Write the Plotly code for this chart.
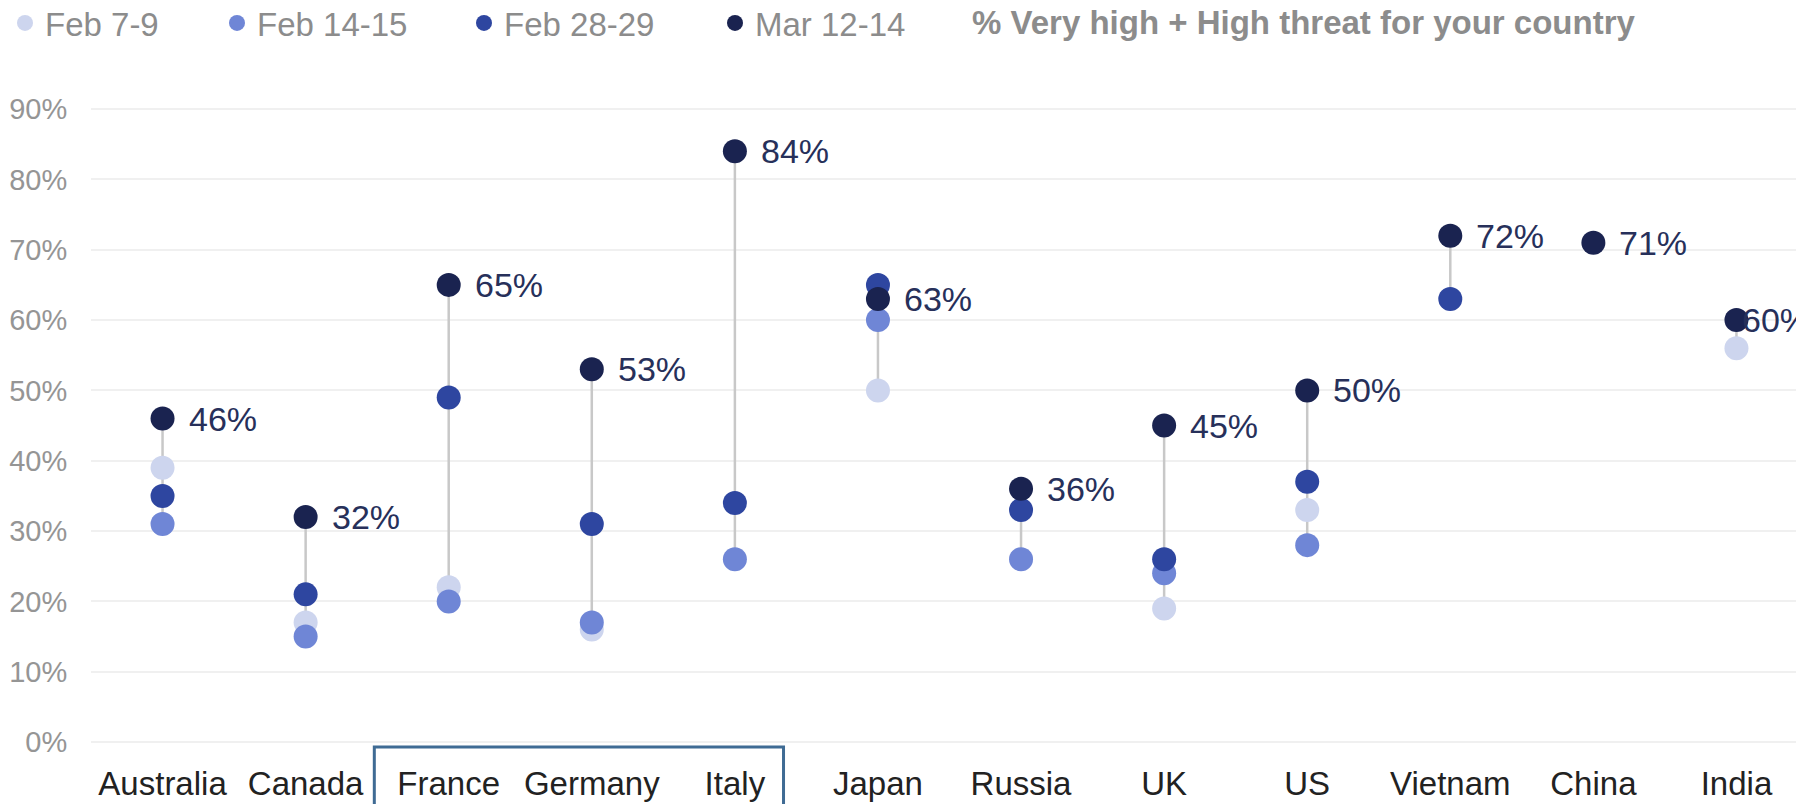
import plotly.graph_objects as go

countries = ["Australia", "Canada", "France", "Germany", "Italy", "Japan",
             "Russia", "UK", "US", "Vietnam", "China", "India"]

# % Very high + High threat, by survey wave (None = not surveyed)
feb_7_9 = [39, 17, 22, 16, None, 50, None, 19, 33, None, None, 56]
feb_14_15 = [31, 15, 20, 17, 26, 60, 26, 24, 28, None, None, None]
feb_28_29 = [35, 21, 49, 31, 34, 65, 33, 26, 37, 63, None, None]
mar_12_14 = [46, 32, 65, 53, 84, 63, 36, 45, 50, 72, 71, 60]

waves = [
    ("Feb 7-9", feb_7_9, "#cdd5ee"),
    ("Feb 14-15", feb_14_15, "#6f86d6"),
    ("Feb 28-29", feb_28_29, "#2e46a0"),
    ("Mar 12-14", mar_12_14, "#1a2350"),
]

FONT = "Liberation Sans, Arial, sans-serif"
W, H = 1804, 804
L, R, T, B = 83, 4, 94, 65
pw = W - L - R
ph = H - T - B

fig = go.Figure()

# grey range line per country, min to max across waves
lx, ly = [], []
for i, c in enumerate(countries):
    vals = [w[1][i] for w in waves if w[1][i] is not None]
    lx += [c, c, None]
    ly += [min(vals), max(vals), None]
fig.add_trace(go.Scatter(x=lx, y=ly, mode="lines", showlegend=False,
                         line=dict(color="#c8c8c8", width=2.5), hoverinfo="skip"))

# legend text starts in px (reference)
leg_text_px = [46, 258, 505, 756]
for k, (name, vals, col) in enumerate(waves):
    lg = "legend" if k == 0 else f"legend{k + 1}"
    fig.add_trace(go.Scatter(x=countries, y=vals, mode="markers", name=name,
                             marker=dict(size=24, color=col), legend=lg))

# value labels for latest wave
for i, (c, v) in enumerate(zip(countries, mar_12_14)):
    shift = 4 if i == len(countries) - 1 else 24
    fig.add_annotation(x=c, y=v, text=f"{v}%", showarrow=False, xanchor="left",
                       yanchor="middle", xshift=shift,
                       font=dict(family=FONT, size=34, color="#27305a"))

legend_y = 1 + (T - 15) / ph
layout_legends = {}
for k in range(4):
    key = "legend" if k == 0 else f"legend{k + 1}"
    layout_legends[key] = dict(
        x=(leg_text_px[k] - 49 - L) / pw, xanchor="left",
        y=legend_y, yanchor="middle", orientation="h",
        bgcolor="rgba(0,0,0,0)", font=dict(family=FONT, size=33, color="#8c8c8c"),
    )

fig.add_annotation(x=(962 - L) / pw, y=legend_y, xref="paper", yref="paper",
                   text="<b>% Very high + High threat for your country</b>",
                   showarrow=False, xanchor="left", yanchor="middle",
                   font=dict(family=FONT, size=33, color="#8c8c8c"))

# box around France / Germany / Italy labels
fig.add_shape(type="rect", xref="x", yref="paper", x0=1.48, x1=4.34, y0=-0.2, y1=0,
              line=dict(color="#3f6b94", width=3))

fig.update_layout(
    width=W, height=H,
    margin=dict(l=L, r=R, t=T, b=B, autoexpand=False),
    plot_bgcolor="white", paper_bgcolor="white",
    font=dict(family=FONT),
    xaxis=dict(type="category", categoryorder="array", categoryarray=countries,
               range=[-0.5, len(countries) - 0.5], showgrid=False, zeroline=False,
               showline=False, ticks="outside", ticklen=7, tickcolor="rgba(0,0,0,0)",
               tickfont=dict(family=FONT, size=33, color="#222222")),
    yaxis=dict(range=[-0.7, 91], tickvals=list(range(0, 91, 10)),
               ticktext=[f"{v}%" for v in range(0, 91, 10)],
               showgrid=True, gridcolor="#f0f0f0", gridwidth=2, zeroline=False,
               showline=False, ticks="outside", ticklen=17, tickcolor="rgba(0,0,0,0)",
               tickfont=dict(family=FONT, size=29, color="#959595")),
    **layout_legends,
)

fig.write_html("out.html")
